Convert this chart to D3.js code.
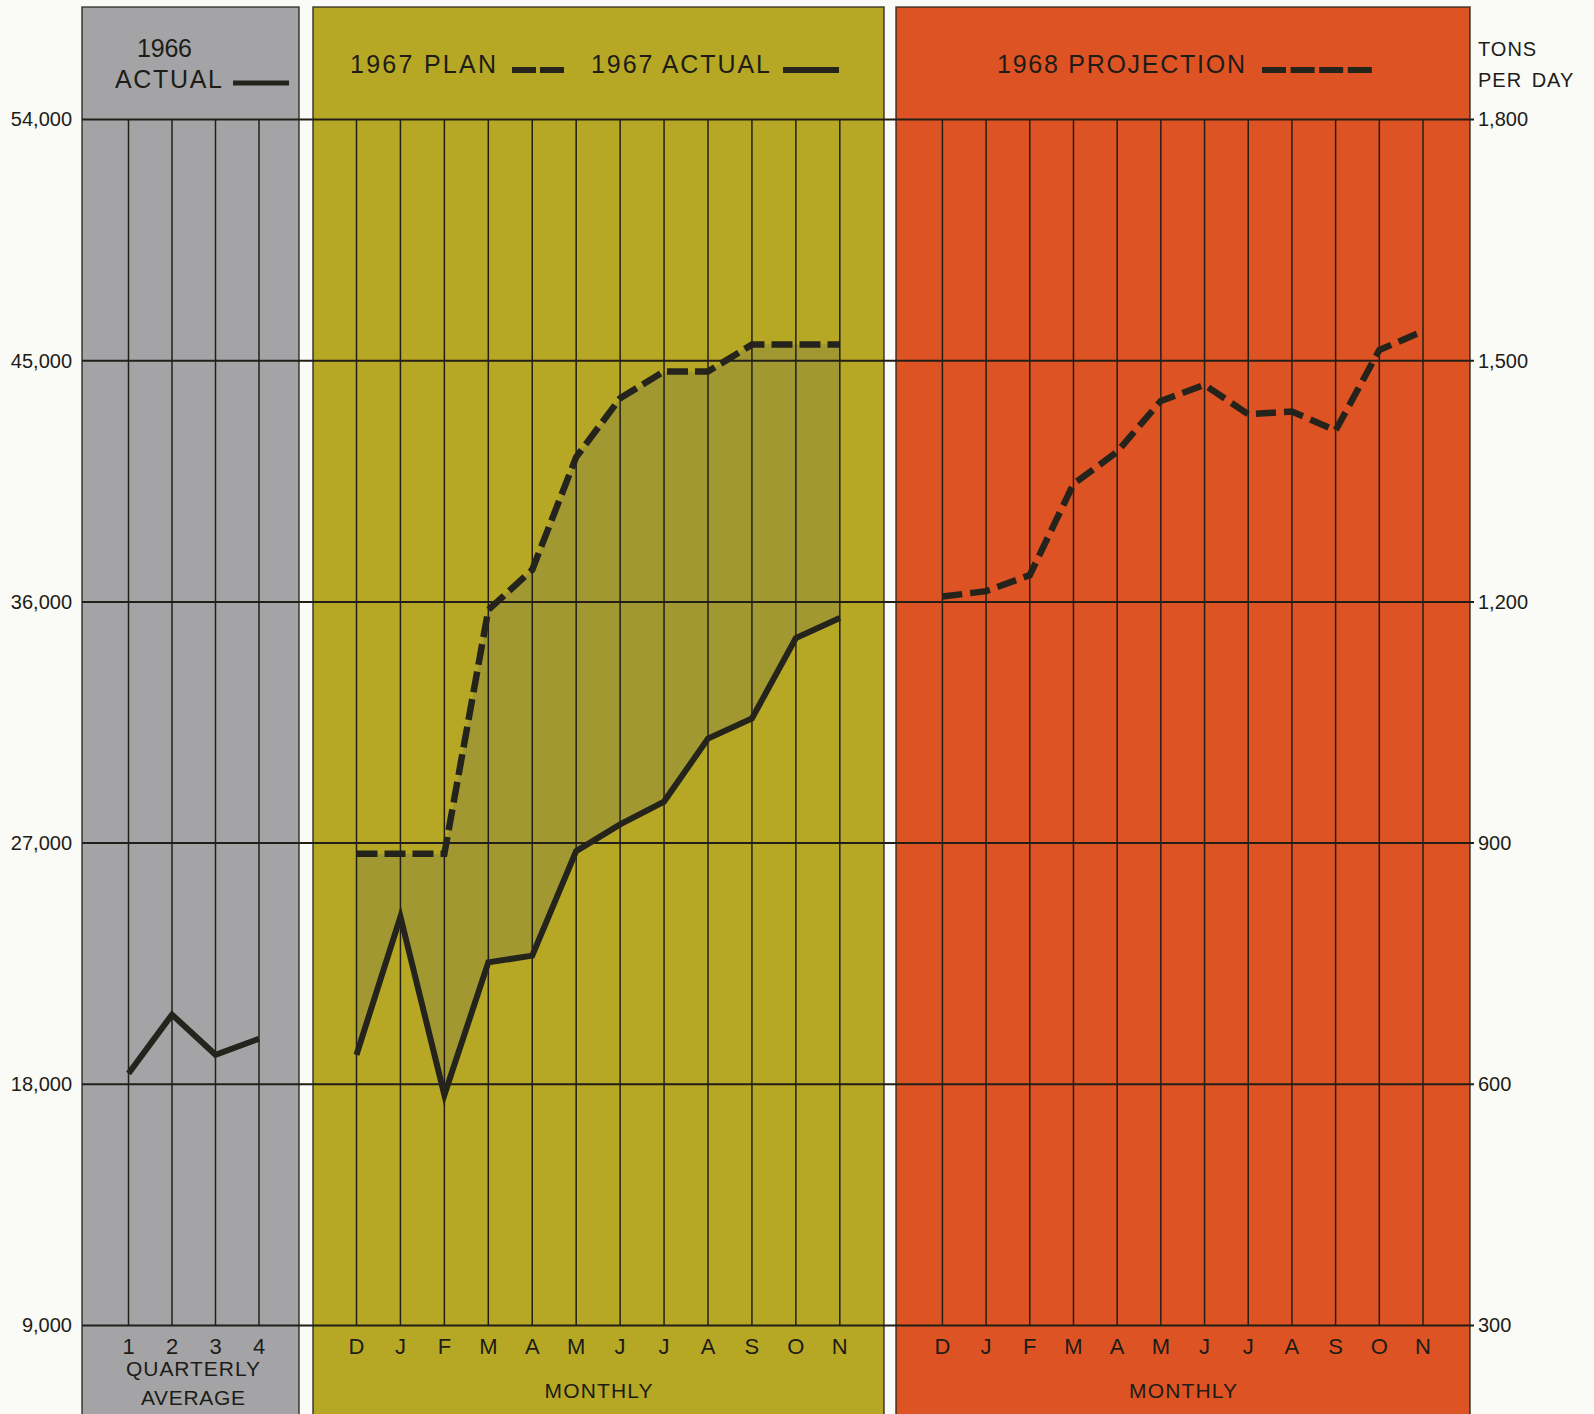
<!DOCTYPE html>
<html>
<head>
<meta charset="utf-8">
<script src="https://cdn.jsdelivr.net/npm/d3@7/dist/d3.min.js"></script>
<style>
  html, body { margin: 0; padding: 0; background: #fafaf6; }
  svg { display: block; }
  text { font-family: "Liberation Sans", Arial, Helvetica, sans-serif; fill: #1d1c17; }
</style>
</head>
<body>
<svg id="chart" width="1594" height="1414"></svg>
<script>
// ---- data -------------------------------------------------------------
const quarters = ["1", "2", "3", "4"];
const actual1966 = [18400, 20600, 19100, 19700];

const months = ["D", "J", "F", "M", "A", "M", "J", "J", "A", "S", "O", "N"];
const plan1967 = [26600, 26600, 26600, 35700, 37200, 41400, 43600, 44600, 44600, 45600, 45600, 45600];
const actual1967 = [19100, 24250, 17600, 22550, 22800, 26700, 27700, 28550, 30900, 31650, 34650, 35400];
const projection1968 = [36200, 36400, 37000, 40400, 41600, 43500, 44100, 43000, 43100, 42400, 45400, 46100];

const monthlyTicks = [9000, 18000, 27000, 36000, 45000, 54000];   // tons per month
const dailyTicks = [300, 600, 900, 1200, 1500, 1800];             // tons per day

// ---- layout -----------------------------------------------------------
const W = 1594, H = 1414;
const panelTop = 7;
const panels = {
  q1966: { x0: 82,  x1: 299,  fill: "#a4a4a7" },
  m1967: { x0: 313, x1: 884,  fill: "#b6a824" },
  m1968: { x0: 896, x1: 1470, fill: "#de5323" }
};
const gridColor = "#221f18";
const inkColor = "#24231c";

const svg = d3.select("#chart");

const y = d3.scaleLinear().domain([9000, 54000]).range([1325.5, 119.5]);
const yDaily = d3.scaleLinear().domain([300, 1800]).range([1325.5, 119.5]);

const xQ = d3.scalePoint().domain(quarters.map((d, i) => i)).range([128.5, 259]);
const x67 = d3.scalePoint().domain(months.map((d, i) => i)).range([356.5, 839.8]);
const x68 = d3.scalePoint().domain(months.map((d, i) => i)).range([942.4, 1423]);

// ---- panel backgrounds --------------------------------------------------
Object.values(panels).forEach(p => {
  svg.append("rect")
    .attr("x", p.x0).attr("y", panelTop)
    .attr("width", p.x1 - p.x0).attr("height", H - panelTop + 10)
    .attr("fill", p.fill);
});

// shaded gap between the 1967 plan and the 1967 actual
const gapArea = d3.area()
  .x((d, i) => x67(i))
  .y0((d, i) => y(actual1967[i]))
  .y1(d => y(d));
svg.append("path")
  .datum(plan1967)
  .attr("d", gapArea)
  .attr("fill", "#8e8840")
  .attr("fill-opacity", 0.5);

// ---- grid ---------------------------------------------------------------
const grid = svg.append("g").attr("stroke", gridColor);

// vertical rules, one per period
[[xQ, quarters], [x67, months], [x68, months]].forEach(([sx, cats]) => {
  grid.selectAll(null)
    .data(cats.map((d, i) => i))
    .join("line")
    .attr("x1", i => sx(i)).attr("x2", i => sx(i))
    .attr("y1", y(54000)).attr("y2", y(9000))
    .attr("stroke-width", 1.5);
});

// panel outlines (top and sides)
Object.values(panels).forEach(p => {
  grid.append("path")
    .attr("d", `M${p.x0},${H + 5}V${panelTop}H${p.x1}V${H + 5}`)
    .attr("fill", "none")
    .attr("stroke-width", 1.6)
    .attr("stroke-opacity", 0.8);
});

// horizontal rules through all three panels
grid.selectAll(null)
  .data(monthlyTicks)
  .join("line")
  .attr("x1", 82).attr("x2", 1474)
  .attr("y1", d => y(d)).attr("y2", d => y(d))
  .attr("stroke-width", 2);

// ---- axes ---------------------------------------------------------------
const leftAxis = d3.axisLeft(y)
  .tickValues(monthlyTicks)
  .tickFormat(d3.format(","))
  .tickSize(0).tickPadding(0);
const gl = svg.append("g").attr("transform", "translate(72,0)").call(leftAxis);
gl.select(".domain").remove();
gl.selectAll("text")
  .style("font-family", "'Liberation Sans', Arial, sans-serif")
  .style("font-size", "20px").attr("fill", inkColor);

const rightAxis = d3.axisRight(yDaily)
  .tickValues(dailyTicks)
  .tickFormat(d3.format(","))
  .tickSize(0).tickPadding(0);
const gr = svg.append("g").attr("transform", "translate(1478,0)").call(rightAxis);
gr.select(".domain").remove();
gr.selectAll("text")
  .style("font-family", "'Liberation Sans', Arial, sans-serif")
  .style("font-size", "20px").attr("fill", inkColor);

svg.append("text").attr("x", 1478).attr("y", 56)
  .attr("font-size", 20).attr("letter-spacing", 1).text("TONS");
svg.append("text").attr("x", 1478).attr("y", 87)
  .attr("font-size", 20).attr("letter-spacing", 1).attr("word-spacing", 3).text("PER DAY");

// period labels under each panel
const bottomLabels = (sx, cats) => {
  svg.append("g").selectAll("text")
    .data(cats)
    .join("text")
    .attr("x", (d, i) => sx(i))
    .attr("y", 1354)
    .attr("text-anchor", "middle")
    .attr("font-size", 22)
    .text(d => d);
};
bottomLabels(xQ, quarters);
bottomLabels(x67, months);
bottomLabels(x68, months);

svg.append("text").attr("x", 193).attr("y", 1376).attr("text-anchor", "middle")
  .attr("font-size", 21).attr("textLength", 134).text("QUARTERLY");
svg.append("text").attr("x", 193).attr("y", 1405).attr("text-anchor", "middle")
  .attr("font-size", 21).attr("textLength", 104).text("AVERAGE");
svg.append("text").attr("x", (panels.m1967.x0 + panels.m1967.x1) / 2).attr("y", 1398)
  .attr("text-anchor", "middle").attr("font-size", 21).attr("textLength", 108).text("MONTHLY");
svg.append("text").attr("x", (panels.m1968.x0 + panels.m1968.x1) / 2).attr("y", 1398)
  .attr("text-anchor", "middle").attr("font-size", 21).attr("textLength", 108).text("MONTHLY");

// ---- series lines -------------------------------------------------------
const lineStyle = sel => sel
  .attr("fill", "none")
  .attr("stroke", inkColor)
  .attr("stroke-width", 6)
  .attr("stroke-linejoin", "miter")
  .attr("stroke-linecap", "butt");

svg.append("path")
  .datum(actual1966)
  .attr("d", d3.line().x((d, i) => xQ(i)).y(d => y(d)))
  .call(lineStyle);

svg.append("path")
  .datum(plan1967)
  .attr("d", d3.line().x((d, i) => x67(i)).y(d => y(d)))
  .call(lineStyle)
  .attr("stroke-width", 6.5)
  .attr("stroke-dasharray", "21,7");

svg.append("path")
  .datum(actual1967)
  .attr("d", d3.line().x((d, i) => x67(i)).y(d => y(d)))
  .call(lineStyle);

svg.append("path")
  .datum(projection1968)
  .attr("d", d3.line().x((d, i) => x68(i)).y(d => y(d)))
  .call(lineStyle)
  .attr("stroke-width", 6.5)
  .attr("stroke-dasharray", "20,8");

// ---- panel headings with legend keys ------------------------------------
const heading = (txt, x, yy, len) => svg.append("text")
  .attr("x", x).attr("y", yy).attr("font-size", 25)
  .attr("textLength", len).attr("lengthAdjust", "spacing").text(txt);

heading("1966", 137, 57, 55);
heading("ACTUAL", 115, 88, 107);
svg.append("line").attr("x1", 233).attr("x2", 289).attr("y1", 83).attr("y2", 83)
  .attr("stroke", inkColor).attr("stroke-width", 5);

heading("1967  PLAN", 350, 73, 146);
svg.append("line").attr("x1", 512).attr("x2", 564).attr("y1", 70).attr("y2", 70)
  .attr("stroke", inkColor).attr("stroke-width", 6).attr("stroke-dasharray", "24,4");
heading("1967  ACTUAL", 591, 73, 179);
svg.append("line").attr("x1", 783).attr("x2", 839).attr("y1", 70).attr("y2", 70)
  .attr("stroke", inkColor).attr("stroke-width", 6);

heading("1968  PROJECTION", 997, 73, 248);
svg.append("line").attr("x1", 1262).attr("x2", 1372).attr("y1", 70).attr("y2", 70)
  .attr("stroke", inkColor).attr("stroke-width", 6).attr("stroke-dasharray", "24,4.6");
</script>
</body>
</html>
